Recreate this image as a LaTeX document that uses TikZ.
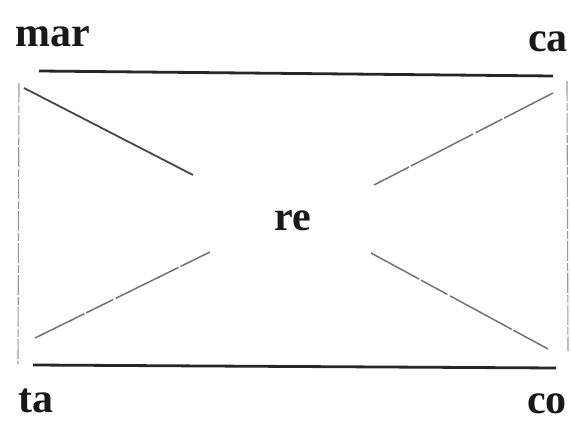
\documentclass[tikz,border=0pt]{standalone}
\usepackage{fontspec}
\setmainfont{Liberation Serif}
\begin{document}
\begin{tikzpicture}[x=1pt,y=1pt,
  lbl/.style={inner sep=0pt,font=\fontsize{42}{46}\selectfont\bfseries,text=black!90},
  bar/.style={line width=2.8pt,black!85},
  diag/.style={line width=1.8pt,black!72},
  diaglight/.style={line width=1.5pt,black!55,dash pattern=on 55pt off 2pt on 30pt off 3pt on 70pt off 2pt},
  side/.style={line width=1.1pt,black!40,dash pattern=on 20pt off 2pt on 8pt off 2pt}]
\useasboundingbox (0,0) rectangle (571,421);
% labels
\node[lbl,anchor=base west] (mar) at (15,374) {mar};
\node[lbl,anchor=base west] (ca) at (528,369) {ca};
\node[lbl,anchor=base west] (ta) at (18,9) {ta};
\node[lbl,anchor=base west] (co) at (527,8) {co};
\node[lbl,anchor=base] (re) at (293,190) {re};
% end points
\coordinate (t1) at (39,350);  \coordinate (t2) at (553,345);
\coordinate (b1) at (33,56);   \coordinate (b2) at (556,53);
\coordinate (l1) at (19,338);  \coordinate (l2) at (18,57);
\coordinate (r1) at (567,340); \coordinate (r2) at (568,70);
\coordinate (d1a) at (24,333); \coordinate (d1b) at (193,246);
\coordinate (d2a) at (553,328); \coordinate (d2b) at (374,236);
\coordinate (d3a) at (35,83);  \coordinate (d3b) at (210,169);
\coordinate (d4a) at (371,168); \coordinate (d4b) at (548,72);
% lines
\draw[bar] (t1) -- (t2);
\draw[bar] (b1) -- (b2);
\draw[side] (l1) -- (l2);
\draw[side] (r1) -- (r2);
\draw[diag] (d1a) -- (d1b);
\draw[diaglight] (d2a) -- (d2b);
\draw[diaglight] (d3a) -- (d3b);
\draw[diaglight] (d4a) -- (d4b);
\end{tikzpicture}
\end{document}
